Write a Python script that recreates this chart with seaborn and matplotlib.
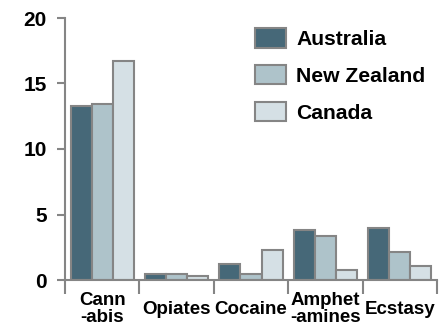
import matplotlib
matplotlib.use("Agg")
import matplotlib.pyplot as plt
import seaborn as sns
import pandas as pd

drugs = ["Cann\n-abis", "Opiates", "Cocaine", "Amphet\n-amines", "Ecstasy"]
countries = ["Australia", "New Zealand", "Canada"]
australia = [13.3, 0.43, 1.2, 3.8, 3.95]
new_zealand = [13.4, 0.45, 0.43, 3.35, 2.1]
canada = [16.75, 0.3, 2.3, 0.77, 1.07]
yticks = [0, 5, 10, 15, 20]

colors = ["#3e6b80", "#a9c5cf", "#d3e1e7"]
edge = "#858585"

df = pd.DataFrame({
    "drug": drugs * 3,
    "country": sum([[c] * len(drugs) for c in countries], []),
    "value": australia + new_zealand + canada,
})

sns.set_style("white")
plt.rcParams["font.family"] = ["Liberation Sans", "DejaVu Sans"]
plt.rcParams["font.weight"] = "bold"
plt.rcParams["text.color"] = "black"
plt.rcParams["xtick.labelcolor"] = "black"
plt.rcParams["ytick.labelcolor"] = "black"

fig = plt.figure(figsize=(4.44, 3.31), dpi=100)
ax = fig.add_axes([65 / 444, 1 - 280 / 331, (437 - 65) / 444, (280 - 18) / 331])

sns.barplot(data=df, x="drug", y="value", hue="country", order=drugs,
            hue_order=countries, palette=colors, width=0.85,
            edgecolor=edge, linewidth=1.5, ax=ax, legend=True)

ax.set_xlim(-0.5, len(drugs) - 0.5)
ax.set_ylim(0, 20)
ax.set_xlabel("")
ax.set_ylabel("")

# y axis
ax.set_yticks(yticks)
ax.set_yticklabels([str(v) for v in yticks], fontsize=15, fontweight="bold",
                   color="black")
ax.tick_params(axis="y", which="major", direction="out", length=6, width=1.5,
               color=edge, pad=7, left=True)

# x axis: ticks at category boundaries, labels at category centres
ax.set_xticks([i - 0.5 for i in range(len(drugs) + 1)])
ax.set_xticklabels([])
ax.tick_params(axis="x", which="major", direction="out", length=10, width=1.5,
               color=edge, bottom=True)
ax.set_xticks(range(len(drugs)), minor=True)
ax.set_xticklabels(drugs, minor=True, fontsize=13.5, fontweight="bold",
                   color="black", linespacing=1.05, va="center")
ax.tick_params(axis="x", which="minor", length=0, pad=21)

for s in ["top", "right"]:
    ax.spines[s].set_visible(False)
for s in ["left", "bottom"]:
    ax.spines[s].set_color(edge)
    ax.spines[s].set_linewidth(1.5)

handles, labels = ax.get_legend_handles_labels()
ax.legend(handles, labels, loc="upper left",
          bbox_to_anchor=(255 / 444, 1 - 28 / 331), bbox_transform=fig.transFigure,
          frameon=False, prop={"weight": "bold", "size": 15.2},
          handlelength=1.45, handleheight=1.05, handletextpad=0.5,
          labelspacing=0.75, borderpad=0, borderaxespad=0)

fig.savefig("out.png", dpi=100)
